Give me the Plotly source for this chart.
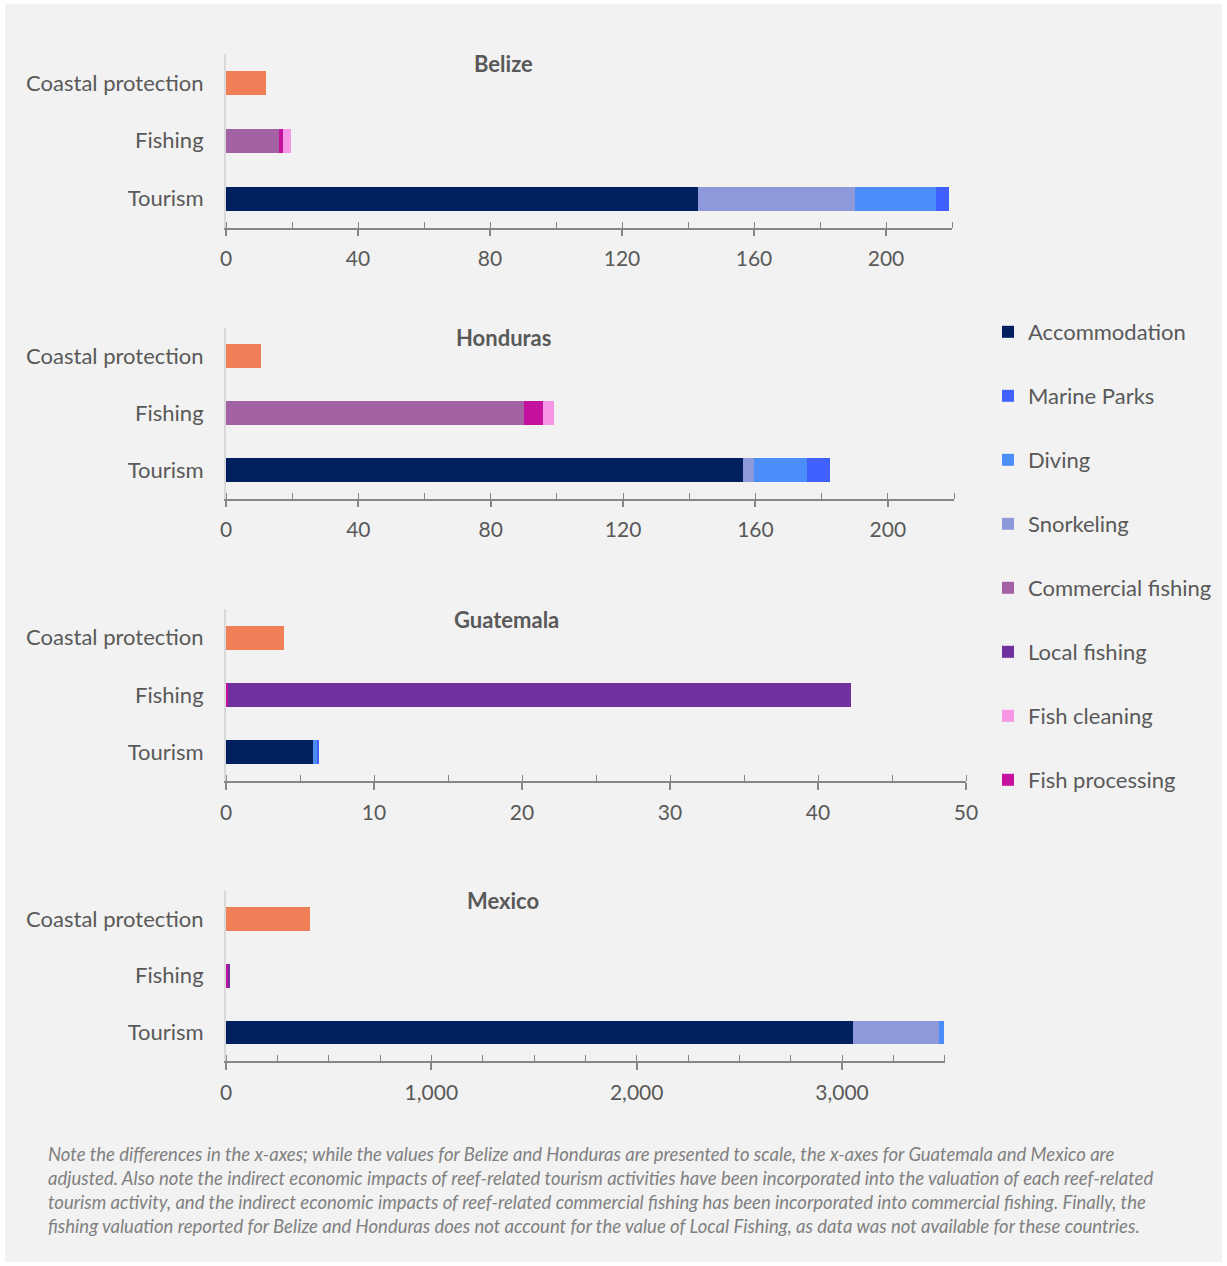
import plotly.graph_objects as go

W, H = 1227, 1266

countries = ["Belize", "Honduras", "Guatemala", "Mexico"]
categories = ["Tourism", "Fishing", "Coastal protection"]

# values per country (Belize, Honduras, Guatemala, Mexico)
accommodation = [143.0, 156.3, 5.9, 3055]
snorkeling = [47.6, 3.3, 0, 415]
diving = [24.6, 16.0, 0.27, 27]
marine_parks = [4.0, 7.0, 0.13, 0]
commercial_fishing = [16.1, 90.1, 0, 0]
fish_processing = [1.2, 5.7, 0.15, 14]
local_fishing = [0, 0, 42.1, 6]
fish_cleaning = [2.4, 3.4, 0, 0]
coastal_protection = [12.1, 10.6, 3.9, 409]

axis_ranges = [[0, 220], [0, 220], [0, 50], [0, 3500]]
major_dticks = [40, 40, 10, 1000]
minor_dticks = [20, 20, 5, 250]

note_lines = [
    "Note the differences in the x-axes; while the values for Belize and Honduras are presented to scale, the x-axes for Guatemala and Mexico are",
    "adjusted. Also note the indirect economic impacts of reef-related tourism activities have been incorporated into the valuation of each reef-related",
    "tourism activity, and the indirect economic impacts of reef-related commercial fishing has been incorporated into commercial fishing. Finally, the",
    "fishing valuation reported for Belize and Honduras does not account for the value of Local Fishing, as data was not available for these countries.",
]

# series: (name, values, category, color, legend rank, show legend)
series = [
    ("Accommodation", accommodation, "Tourism", "#002060", 1, True),
    ("Snorkeling", snorkeling, "Tourism", "#8E99DB", 4, True),
    ("Diving", diving, "Tourism", "#4B8EF9", 3, True),
    ("Marine Parks", marine_parks, "Tourism", "#4161FF", 2, True),
    ("Commercial fishing", commercial_fishing, "Fishing", "#A262A3", 5, True),
    ("Fish processing", fish_processing, "Fishing", "#C511A0", 8, True),
    ("Local fishing", local_fishing, "Fishing", "#7030A0", 6, True),
    ("Fish cleaning", fish_cleaning, "Fishing", "#F796E6", 7, True),
    ("Coastal protection", coastal_protection, "Coastal protection", "#F07F57", 9, False),
]

FONT = "Lato"
TXT = "#595959"

def px_x(p):
    return p / W

def px_y(p):
    return 1 - p / H

x_domains = [[px_x(226), px_x(952)], [px_x(226), px_x(954)],
             [px_x(226), px_x(966)], [px_x(226), px_x(944.7)]]
y_domains = [[px_y(227.5), px_y(54)], [px_y(498.5), px_y(327.5)],
             [px_y(781), px_y(609)], [px_y(1061), px_y(890.5)]]
title_pos = [(503, 63), (503, 337), (506, 619), (503, 900)]

fig = go.Figure()

for ci, country in enumerate(countries):
    sfx = "" if ci == 0 else str(ci + 1)
    for name, vals, cat, color, rank, show in series:
        fig.add_trace(go.Bar(
            x=[vals[ci]], y=[cat], orientation="h",
            name=name, marker=dict(color=color, line=dict(width=0)),
            xaxis="x" + sfx, yaxis="y" + sfx,
            legendgroup=name, legendrank=rank,
            showlegend=(show and ci == 0),
            hovertemplate=country + " - " + name + ": %{x}<extra></extra>",
        ))
    xa = dict(
        domain=x_domains[ci], range=axis_ranges[ci], anchor="y" + sfx,
        automargin=False,
        showgrid=False, zeroline=False, showline=True,
        linecolor="#868686", linewidth=1.5,
        ticks="outside", ticklen=7, tickwidth=1.5, tickcolor="#868686",
        dtick=major_dticks[ci], tick0=0,
        tickfont=dict(family=FONT, size=21, color=TXT),
        ticklabelstandoff=5,
        minor=dict(ticks="inside", ticklen=6, tickwidth=1.3, tickcolor="#868686",
                   dtick=minor_dticks[ci], tick0=0, showgrid=False),
        fixedrange=True,
    )
    if ci == 3:
        xa["tickformat"] = ",d"
    ya = dict(
        domain=y_domains[ci], anchor="x" + sfx,
        automargin=False,
        categoryorder="array", categoryarray=categories,
        showgrid=False, zeroline=False, showline=True,
        linecolor="#D9D9D9", linewidth=2, ticks="",
        tickfont=dict(family=FONT, size=22, color=TXT),
        ticklabelstandoff=16, fixedrange=True,
    )
    fig.update_layout(**{"xaxis" + sfx: xa, "yaxis" + sfx: ya})
    tx, ty = title_pos[ci]
    fig.add_annotation(
        text="<b>" + country + "</b>", x=px_x(tx), y=px_y(ty),
        xref="paper", yref="paper", showarrow=False,
        xanchor="center", yanchor="middle",
        font=dict(family=FONT, size=22, color=TXT),
    )

for i, line in enumerate(note_lines):
    fig.add_annotation(
        text="<i>" + line + "</i>", x=px_x(46), y=px_y(1154 + 24 * i),
        xref="paper", yref="paper", showarrow=False,
        xanchor="left", yanchor="middle",
        font=dict(family=FONT, size=18.5, color="#808080"),
    )

fig.add_shape(type="rect", xref="paper", yref="paper",
              x0=px_x(5), x1=px_x(1222), y0=px_y(1262), y1=px_y(4),
              fillcolor="#F2F2F2", line=dict(width=0), layer="below")

fig.update_layout(
    width=W, height=H,
    margin=dict(l=0, r=0, t=0, b=0),
    paper_bgcolor="white", plot_bgcolor="rgba(0,0,0,0)",
    barmode="stack", bargap=0.585,
    showlegend=True,
    legend=dict(
        x=px_x(988), y=px_y(311), xanchor="left", yanchor="top",
        font=dict(family=FONT, size=22, color=TXT),
        bgcolor="rgba(0,0,0,0)", tracegroupgap=32.4,
        itemclick=False, itemdoubleclick=False,
    ),
    font=dict(family=FONT, color=TXT),
)

fig.write_html("out.html")
